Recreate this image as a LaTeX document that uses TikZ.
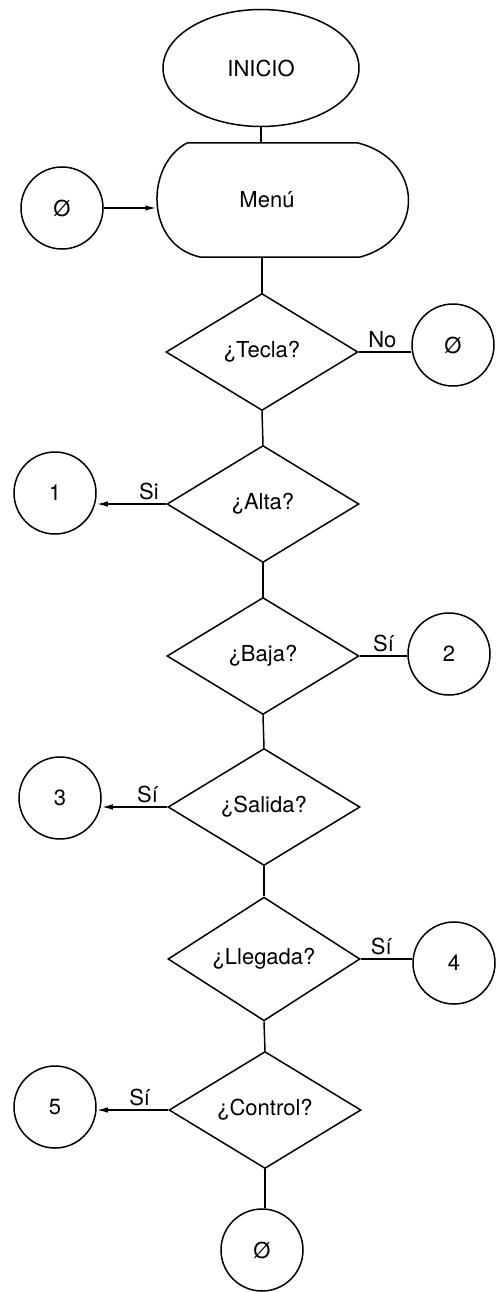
\documentclass[tikz,border=0pt]{standalone}
\usepackage{fontspec}
\setmainfont{TeX Gyre Heros}
\usetikzlibrary{shapes.geometric,arrows.meta}

\begin{document}
\begin{tikzpicture}[x=1pt, y=-1pt, line width=1.5pt,
        every node/.style={font=\fontsize{22}{26}\selectfont},
        conector/.style={circle, draw, minimum size=82pt, inner sep=0pt},
        decision/.style={diamond, draw, minimum width=192pt, minimum height=117pt, inner sep=0pt},
        flecha/.style={-{Latex[length=11pt,width=5.5pt]}},
        etiqueta/.style={above, inner sep=3pt}]
    \useasboundingbox (0,0) rectangle (503,1292);

    % inicio y menu
    \node[ellipse, draw, minimum width=196pt, minimum height=117pt] (inicio) at (261,68) {INICIO};
    \node[minimum width=220pt, minimum height=114pt, inner sep=0pt] (menu) at (267,200) {Menú};
    \draw (187,143) -- (358,143) .. controls (425,160) and (425,240) .. (360,257)
        -- (200,257) .. controls (145,245) and (145,165) .. (187,143);
    \node[conector] (c0) at (62,208) {Ø};

    % preguntas
    \node[decision] (tecla) at (262,352) {¿Tecla?};
    \node[decision] (alta) at (263,504) {¿Alta?};
    \node[decision] (baja) at (263,656) {¿Baja?};
    \node[decision] (salida) at (264,807) {¿Salida?};
    \node[decision] (llegada) at (264,959) {¿Llegada?};
    \node[decision] (control) at (265,1110) {¿Control?};

    % conectores
    \node[conector] (cno) at (453,345) {Ø};
    \node[conector] (c1) at (55,493) {1};
    \node[conector] (c2) at (449,654) {2};
    \node[conector] (c3) at (60,798) {3};
    \node[conector] (c4) at (454,963) {4};
    \node[conector] (c5) at (55,1107) {5};
    \node[conector] (cfin) at (262,1250) {Ø};

    % lineas verticales
    \draw (inicio.south) -- (inicio.south |- menu.north);
    \draw (tecla.north |- menu.south) -- (tecla.north);
    \draw (tecla.south) -- (alta.north);
    \draw (alta.south) -- (baja.north);
    \draw (baja.south) -- (salida.north);
    \draw (salida.south) -- (llegada.north);
    \draw (llegada.south) -- (control.north);
    \draw (control.south) -- (cfin.north -| control.south);

    % salidas
    \draw[flecha] (c0.east) -- (c0.east -| menu.west);
    \draw (tecla.east) -- (tecla.east -| cno.west) node[etiqueta, pos=.45] {No};
    \draw[flecha] (alta.west) -- (alta.west -| c1.east) node[etiqueta, pos=.25] {Si};
    \draw (baja.east) -- (baja.east -| c2.west) node[etiqueta, midway] {Sí};
    \draw[flecha] (salida.west) -- (salida.west -| c3.east) node[etiqueta, pos=.3] {Sí};
    \draw (llegada.east) -- (llegada.east -| c4.west) node[etiqueta, pos=.4] {Sí};
    \draw[flecha] (control.west) -- (control.west -| c5.east) node[etiqueta, pos=.4] {Sí};
\end{tikzpicture}
\end{document}
